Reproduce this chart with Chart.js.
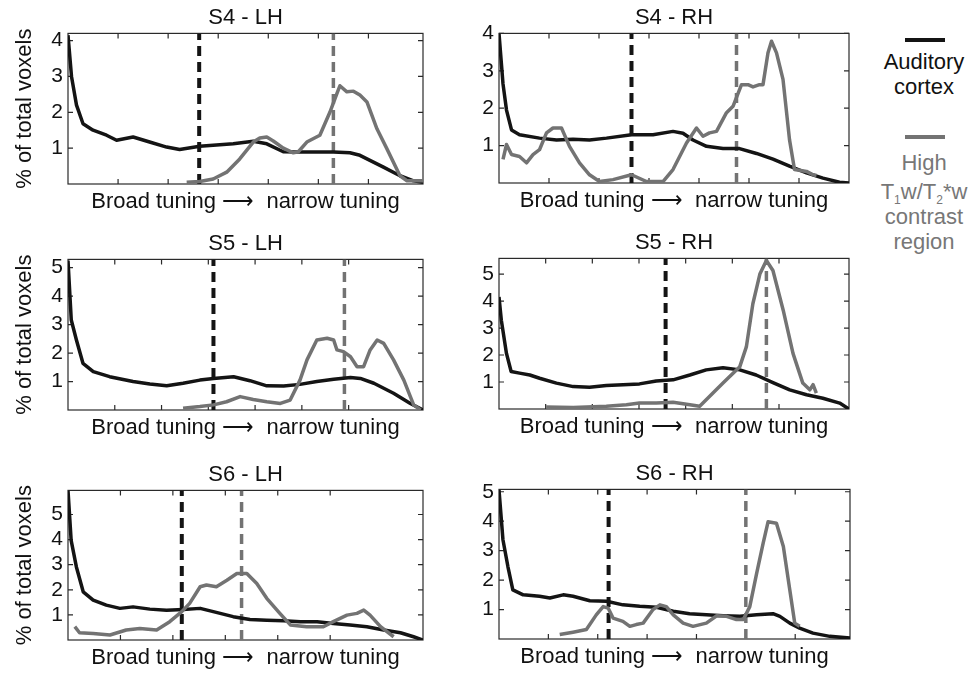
<!DOCTYPE html>
<html>
<head>
<meta charset="utf-8">
<script src="https://cdn.jsdelivr.net/npm/chart.js@4.4.1/dist/chart.umd.min.js"></script>
<style>
  body { margin: 0; background: #fff; width: 969px; height: 673px; overflow: hidden; position: relative; font-family: "Liberation Sans", Arial, sans-serif; }
  .panel { position: absolute; }
  .legend { position: absolute; left: 874px; width: 100px; text-align: center; font-size: 22px; line-height: 25px; }
  .swatch { position: absolute; left: 905px; width: 40px; height: 4px; }
  sub { font-size: 12px; vertical-align: -5px; line-height: 0; }
</style>
</head>
<body>
<canvas id="p0" class="panel"></canvas>
<canvas id="p1" class="panel"></canvas>
<canvas id="p2" class="panel"></canvas>
<canvas id="p3" class="panel"></canvas>
<canvas id="p4" class="panel"></canvas>
<canvas id="p5" class="panel"></canvas>

<div class="swatch" style="top:38px;background:#141414"></div>
<div class="legend" style="top:49px;color:#111">Auditory<br>cortex</div>
<div class="swatch" style="top:135px;background:#737373"></div>
<div class="legend" style="top:150px;color:#777">High<br><span style="display:inline-block;margin-top:4px">T<sub>1</sub>w/T<sub>2</sub>*w</span><br>contrast<br>region</div>

<script>
// panel titles and axis ranges (x in tick units)
const panelNames = ["S4 - LH", "S4 - RH", "S5 - LH", "S5 - RH", "S6 - LH", "S6 - RH"];
const xMaxes = [7.09, 7.0, 7.59, 7.5, 6.77, 7.11];
const yMaxes = [4.2, 4.0, 5.29, 5.58, 5.96, 5.08];
const yTicks4 = [1, 2, 3, 4];
const yTicks5 = [1, 2, 3, 4, 5];
const panelYTicks = [yTicks4, yTicks4, yTicks5, yTicks5, yTicks5, yTicks5];

// dashed markers (median of each distribution)
const cortexMarks = [2.62, 2.65, 3.11, 3.57, 2.17, 2.22];
const contrastMarks = [5.3, 4.75, 5.91, 5.73, 3.31, 5.0];

// S4 - LH
const s4lhCortex = [[0,4.15],[0.07,3.0],[0.17,2.2],[0.3,1.68],[0.5,1.5],[0.77,1.36],[0.97,1.22],[1.3,1.31],[1.63,1.17],[1.97,1.03],[2.23,0.96],[2.63,1.05],[3.3,1.12],[3.7,1.19],[3.97,1.12],[4.3,0.9],[4.63,0.89],[5.3,0.89],[5.63,0.87],[5.83,0.8],[6.3,0.47],[6.63,0.23],[6.9,0.09],[7.09,0.05]];
const s4lhContrast = [[2.37,0.05],[2.63,0.07],[2.9,0.14],[3.17,0.33],[3.43,0.7],[3.7,1.17],[3.83,1.28],[3.97,1.31],[4.1,1.2],[4.3,1.0],[4.5,0.87],[4.6,0.9],[4.77,1.17],[5.03,1.36],[5.23,2.0],[5.37,2.52],[5.43,2.74],[5.57,2.57],[5.7,2.59],[5.83,2.48],[5.97,2.29],[6.17,1.54],[6.37,0.98],[6.63,0.23],[6.77,0.09],[7.09,0.09]];

// S4 - RH
const s4rhCortex = [[0,4.0],[0.08,2.65],[0.15,1.95],[0.25,1.42],[0.41,1.29],[0.81,1.2],[1.15,1.15],[1.48,1.17],[1.81,1.15],[2.15,1.2],[2.65,1.29],[3.08,1.29],[3.48,1.38],[3.68,1.33],[3.88,1.15],[4.15,0.98],[4.48,0.92],[4.81,0.92],[5.15,0.79],[5.48,0.64],[5.81,0.45],[6.15,0.27],[6.48,0.13],[6.81,0.02],[7.0,0]];
const s4rhContrast = [[0.08,0.63],[0.15,1.03],[0.25,0.76],[0.41,0.71],[0.55,0.54],[0.68,0.76],[0.81,0.89],[0.95,1.34],[1.08,1.47],[1.25,1.47],[1.41,0.98],[1.61,0.54],[1.81,0.22],[2.01,0.04],[2.28,0.09],[2.65,0.22],[2.95,0.04],[3.28,0.04],[3.48,0.36],[3.75,1.07],[3.95,1.47],[4.08,1.25],[4.21,1.34],[4.35,1.38],[4.55,1.88],[4.68,2.05],[4.85,2.63],[4.98,2.63],[5.08,2.57],[5.21,2.63],[5.28,2.63],[5.38,3.48],[5.45,3.79],[5.55,3.48],[5.68,2.77],[5.81,1.16],[5.91,0.36],[6.15,0.31],[6.28,0.22],[6.35,0.2]];

// S5 - LH
const s5lhCortex = [[0,5.25],[0.07,3.16],[0.18,2.46],[0.32,1.64],[0.54,1.35],[0.89,1.17],[1.39,1.0],[1.75,0.91],[2.11,0.85],[2.46,0.94],[2.82,1.05],[3.11,1.11],[3.54,1.17],[3.89,1.03],[4.25,0.85],[4.61,0.84],[4.96,0.9],[5.32,1.0],[5.68,1.08],[6.04,1.14],[6.25,1.11],[6.54,0.94],[6.96,0.59],[7.32,0.23],[7.59,0]];
const s5lhContrast = [[2.46,0.06],[2.82,0.12],[3.11,0.18],[3.39,0.29],[3.68,0.47],[3.96,0.37],[4.25,0.29],[4.54,0.23],[4.75,0.35],[4.96,1.05],[5.11,1.76],[5.32,2.46],[5.54,2.52],[5.68,2.46],[5.75,2.11],[5.89,2.05],[6.04,1.87],[6.18,1.52],[6.32,1.52],[6.46,2.11],[6.61,2.46],[6.75,2.34],[6.96,1.76],[7.18,1.05],[7.39,0.18],[7.54,0]];

// S5 - RH
const s5rhCortex = [[0,4.15],[0.05,3.29],[0.16,2.06],[0.26,1.39],[0.44,1.33],[0.66,1.26],[0.87,1.14],[1.23,0.96],[1.59,0.83],[1.94,0.81],[2.3,0.87],[2.66,0.9],[3.01,0.93],[3.37,1.04],[3.73,1.08],[4.09,1.26],[4.44,1.45],[4.8,1.53],[5.16,1.45],[5.51,1.26],[5.87,0.98],[6.23,0.71],[6.59,0.53],[6.94,0.4],[7.3,0.22],[7.5,0]];
const s5rhContrast = [[1.01,0.07],[1.59,0.06],[2.3,0.1],[2.73,0.16],[3.01,0.22],[3.37,0.22],[3.73,0.25],[4.09,0.16],[4.3,0.1],[4.44,0.34],[4.8,0.96],[5.16,1.57],[5.3,2.3],[5.44,3.9],[5.59,5.0],[5.73,5.5],[5.87,5.13],[6.09,3.66],[6.3,2.06],[6.51,0.96],[6.66,0.71],[6.73,0.9],[6.8,0.59]];

// S6 - LH
const s6lhCortex = [[0,5.96],[0.06,3.97],[0.16,2.91],[0.29,1.92],[0.48,1.59],[0.73,1.39],[0.99,1.26],[1.24,1.32],[1.56,1.23],[1.88,1.19],[2.2,1.22],[2.52,1.26],[2.77,1.13],[3.15,0.93],[3.47,0.82],[3.79,0.79],[4.11,0.77],[4.43,0.73],[4.75,0.73],[5.06,0.66],[5.38,0.6],[5.7,0.53],[6.02,0.4],[6.34,0.29],[6.59,0.13],[6.77,0]];
const s6lhContrast = [[0.13,0.53],[0.22,0.29],[0.48,0.26],[0.8,0.2],[1.11,0.4],[1.37,0.46],[1.69,0.4],[1.94,0.73],[2.17,1.13],[2.32,1.46],[2.52,2.12],[2.64,2.19],[2.83,2.12],[3.03,2.38],[3.22,2.65],[3.41,2.65],[3.6,2.25],[3.79,1.66],[4.04,1.06],[4.24,0.6],[4.55,0.53],[4.87,0.53],[5.06,0.73],[5.32,0.99],[5.51,1.06],[5.64,1.19],[5.76,0.99],[5.96,0.53],[6.21,0.13]];

// S6 - RH
const s6rhCortex = [[0,5.06],[0.08,3.37],[0.18,2.46],[0.28,1.67],[0.49,1.5],[0.82,1.45],[1.03,1.39],[1.3,1.5],[1.5,1.45],[1.84,1.3],[2.18,1.28],[2.51,1.16],[2.85,1.11],[3.19,1.08],[3.53,0.94],[3.86,0.86],[4.2,0.82],[4.54,0.79],[4.88,0.77],[5.22,0.82],[5.55,0.86],[5.69,0.77],[5.89,0.54],[6.09,0.37],[6.36,0.2],[6.7,0.09],[7.11,0.03]];
const s6rhContrast = [[1.23,0.15],[1.5,0.23],[1.77,0.32],[1.97,0.82],[2.11,1.1],[2.21,1.05],[2.31,0.71],[2.51,0.6],[2.65,0.43],[2.78,0.49],[2.92,0.54],[3.12,1.0],[3.26,1.16],[3.39,1.1],[3.53,0.82],[3.73,0.54],[3.93,0.43],[4.2,0.54],[4.41,0.79],[4.61,0.77],[4.81,0.66],[4.95,0.66],[5.08,1.1],[5.22,2.24],[5.35,3.25],[5.45,3.98],[5.62,3.93],[5.76,3.14],[5.89,1.67],[5.99,0.54],[6.09,0.43]];

const cortexSeries = [s4lhCortex, s4rhCortex, s5lhCortex, s5rhCortex, s6lhCortex, s6rhCortex];
const contrastSeries = [s4lhContrast, s4rhContrast, s5lhContrast, s5rhContrast, s6lhContrast, s6rhContrast];

// plot box of each panel on the page: left, top, right, bottom
const boxes = [
  [68, 33, 423, 184], [499, 33, 849, 183],
  [68, 259, 423, 410], [499, 258, 849, 409],
  [68, 490, 423, 640], [499, 489, 850, 639]
];

const BLACK = "#141414";
const GRAY = "#737373";
const FONT = "'Liberation Sans', Arial, sans-serif";
const TITLE_H = 28;
const XAXIS_H = 32;
const RIGHT_PAD = 6;

// matlab style frame with inward ticks on all four sides
const framePlugin = {
  id: "frame",
  beforeDatasetsDraw(chart) {
    const { ctx, chartArea: a, scales } = chart;
    ctx.save();
    ctx.strokeStyle = "#2a2a2a";
    ctx.lineWidth = 1.2;
    ctx.strokeRect(a.left, a.top, a.width, a.height);
    ctx.beginPath();
    scales.x.ticks.forEach((t) => {
      if (t.value <= 0 || t.value >= scales.x.max || !Number.isInteger(t.value)) return;
      const px = scales.x.getPixelForValue(t.value);
      ctx.moveTo(px, a.bottom); ctx.lineTo(px, a.bottom - 5);
      ctx.moveTo(px, a.top); ctx.lineTo(px, a.top + 5);
    });
    scales.y.ticks.forEach((t) => {
      const py = scales.y.getPixelForValue(t.value);
      ctx.moveTo(a.left, py); ctx.lineTo(a.left + 5, py);
      ctx.moveTo(a.right, py); ctx.lineTo(a.right - 5, py);
    });
    ctx.stroke();
    ctx.restore();
  }
};

function toPoints(pairs) {
  return pairs.map((p) => ({ x: p[0], y: p[1] }));
}

function makePanel(i) {
  const [bl, bt, br, bb] = boxes[i];
  const leftCol = i % 2 === 0;
  const axisW = leftCol ? 68 : 40;
  const canvas = document.getElementById("p" + i);
  const w = br - bl + axisW + RIGHT_PAD;
  const h = bb - bt + TITLE_H + XAXIS_H;
  canvas.style.left = (bl - axisW) + "px";
  canvas.style.top = (bt - TITLE_H) + "px";
  canvas.style.width = w + "px";
  canvas.style.height = h + "px";
  canvas.width = w;
  canvas.height = h;

  const yMax = yMaxes[i];
  new Chart(canvas, {
    type: "line",
    data: {
      datasets: [
        {
          label: "High T1w/T2*w contrast region",
          data: toPoints(contrastSeries[i]),
          borderColor: GRAY,
          borderWidth: 3.5,
        },
        {
          label: "Auditory cortex",
          data: toPoints(cortexSeries[i]),
          borderColor: BLACK,
          borderWidth: 3.5,
        },
        {
          label: "cortex median",
          data: [{ x: cortexMarks[i], y: 0 }, { x: cortexMarks[i], y: yMax }],
          borderColor: BLACK,
          borderWidth: 4,
          borderDash: [10, 6],
        },
        {
          label: "contrast median",
          data: [{ x: contrastMarks[i], y: 0 }, { x: contrastMarks[i], y: yMax }],
          borderColor: GRAY,
          borderWidth: 3.5,
          borderDash: [10, 6],
        },
      ],
    },
    options: {
      responsive: false,
      animation: false,
      layout: { padding: { left: 0, right: RIGHT_PAD, top: 0, bottom: 0 } },
      elements: { point: { radius: 0 }, line: { tension: 0, borderJoinStyle: "round", borderCapStyle: "butt" } },
      scales: {
        x: {
          type: "linear",
          min: 0,
          max: xMaxes[i],
          ticks: { display: false, stepSize: 1 },
          grid: { display: false, drawTicks: false },
          border: { display: false },
          title: {
            display: true,
            text: "Broad tuning \u27F6  narrow tuning",
            color: "#111",
            font: { family: FONT, size: 22 },
            padding: { top: 0, bottom: 1 },
          },
          afterFit: (scale) => { scale.height = XAXIS_H; },
        },
        y: {
          type: "linear",
          min: 0,
          max: yMax,
          afterBuildTicks: (scale) => {
            scale.ticks = panelYTicks[i].map((v) => ({ value: v }));
          },
          ticks: {
            color: "#111",
            padding: 5,
            font: { family: FONT, size: 21 },
          },
          grid: { display: false, drawTicks: false },
          border: { display: false },
          title: {
            display: leftCol,
            text: "% of total voxels",
            color: "#111",
            font: { family: FONT, size: 22 },
            padding: { top: 12, bottom: 0 },
          },
          afterFit: (scale) => { scale.width = axisW; },
        },
      },
      plugins: {
        legend: { display: false },
        tooltip: { enabled: false },
        title: {
          display: true,
          text: panelNames[i],
          fullSize: false,
          color: "#111",
          font: { family: FONT, size: 22, weight: "normal" },
          padding: { top: 0, bottom: 2 },
        },
      },
    },
    plugins: [framePlugin],
  });
}

function showPanels() {
  for (let i = 0; i < panelNames.length; i++) {
    makePanel(i);
  }
}

showPanels();
</script>
</body>
</html>
